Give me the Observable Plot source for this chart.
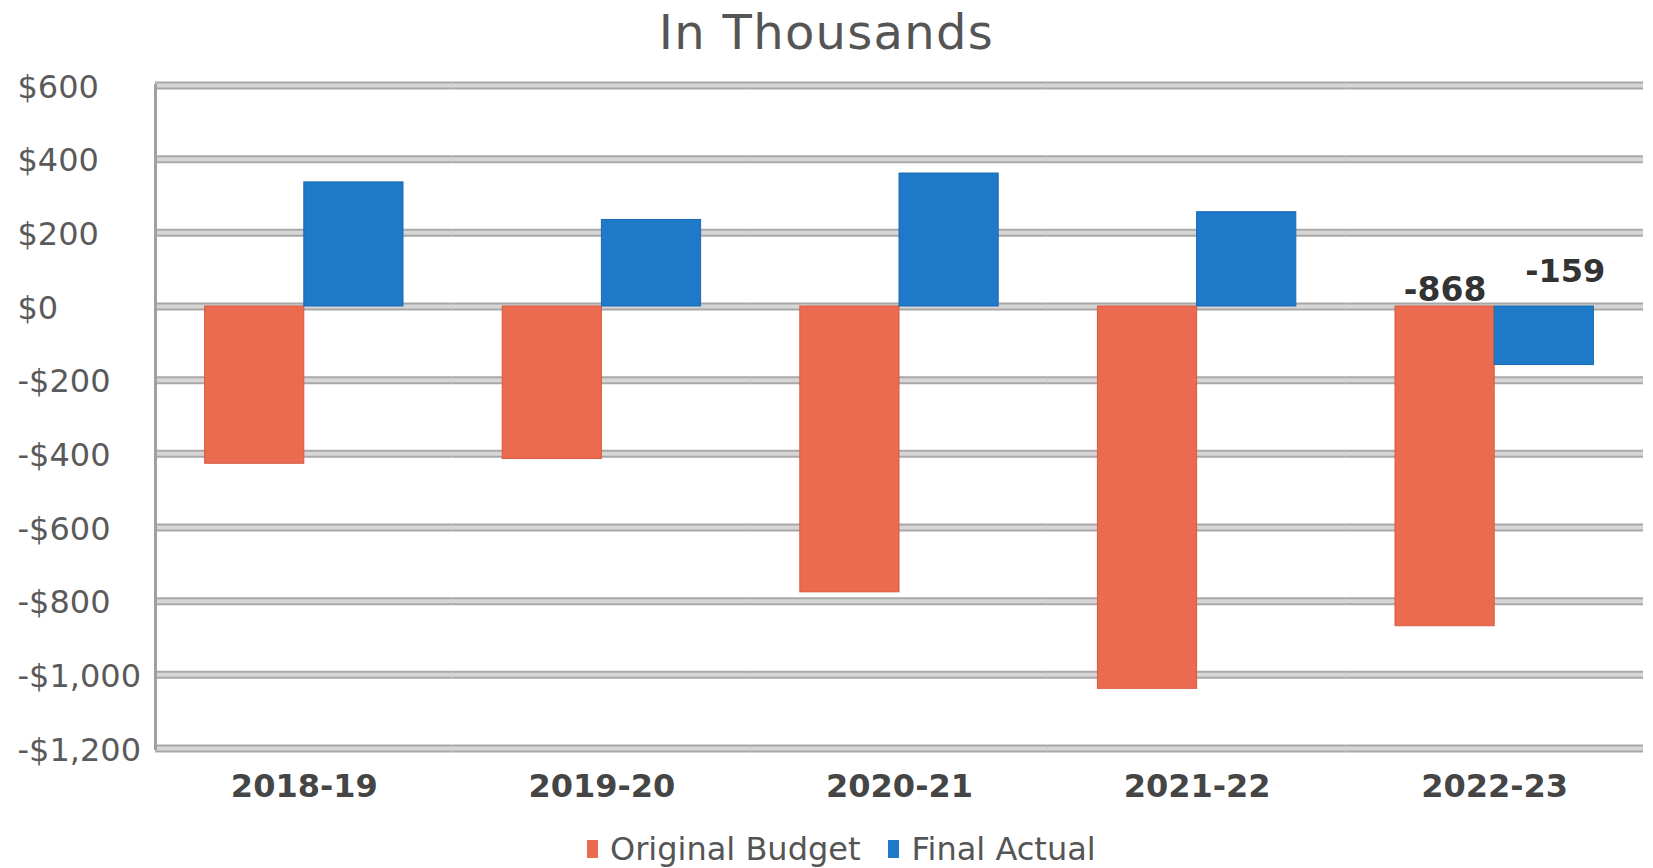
<!DOCTYPE html>
<html>
<head>
<meta charset="utf-8">
<script src="https://cdn.jsdelivr.net/npm/d3@7"></script>
<script src="https://cdn.jsdelivr.net/npm/@observablehq/plot@0.6"></script>
<style>
  html, body { margin: 0; padding: 0; background: #fff; }
  body { width: 1653px; height: 868px; position: relative; overflow: hidden; font-family: "DejaVu Sans", Verdana, sans-serif; }
  #title { position: absolute; top: 1px; left: 0; width: 1653px; text-align: center; font-size: 48px; line-height: 62px; color: #555; letter-spacing: 1.3px; }
  #chart { position: absolute; top: 60px; left: 0; }
  #legend { position: absolute; top: 831px; left: 587px; display: flex; align-items: center; font-size: 32px; color: #555; line-height: 36px; white-space: nowrap; }
  .sw { display: inline-block; width: 11px; height: 18px; margin-right: 12px; }
  .item { display: flex; align-items: center; margin-right: 28px; }
</style>
</head>
<body>
<div id="title">In Thousands</div>
<div id="chart"></div>
<div id="legend"></div>
<script>
// ---- data ----
const years = ["2018-19", "2019-20", "2020-21", "2021-22", "2022-23"];
const seriesNames = ["Original Budget", "Final Actual"];
const originalBudget = [-427, -414, -776, -1038, -868];
const finalActual = [337, 235, 361, 256, -159];
const yTicks = [600, 400, 200, 0, -200, -400, -600, -800, -1000, -1200];
const labeledYears = ["2022-23"];
const colors = ["#EA6B50", "#1E79C9"];
const strokeColors = ["#d85a40", "#1a6ab2"];

const rows = [];
years.forEach((yr, i) => {
  rows.push({year: yr, series: seriesNames[0], value: originalBudget[i]});
  rows.push({year: yr, series: seriesNames[1], value: finalActual[i]});
});
const labelRows = rows.filter(d => labeledYears.includes(d.year));

const fmt = d => (d < 0 ? "-" : "") + "$" + d3.format(",")(Math.abs(d));

const chart = Plot.plot({
  width: 1653,
  height: 770,
  marginTop: 25,
  marginBottom: 82,
  marginLeft: 155,
  marginRight: 10,
  style: {fontFamily: "DejaVu Sans, Verdana, sans-serif", background: "#fff"},
  fx: {domain: years, padding: 0, round: false, label: null},
  x: {domain: seriesNames, paddingInner: 0, paddingOuter: 0.5, round: false, axis: null},
  y: {domain: [-1200, 600], label: null},
  color: {domain: seriesNames, range: colors},
  marks: [
    Plot.ruleY(yTicks, {stroke: "#a8a8a8", strokeWidth: 8}),
    Plot.ruleY(yTicks, {stroke: "#d6d6d6", strokeWidth: 4}),
    Plot.frame({anchor: "left", facetAnchor: "left", stroke: "#a0a0a0", strokeWidth: 3}),
    Plot.barY(rows, {fx: "year", x: "series", y: "value", fill: "series",
      stroke: d => strokeColors[seriesNames.indexOf(d.series)], strokeWidth: 1}),
    Plot.text(labelRows.filter(d => d.series === seriesNames[0]), {
      fx: "year", x: "series", y: 0, text: d => String(d.value),
      dy: -16, fontSize: 33, fontWeight: "bold", fill: "#333"}),
    Plot.text(labelRows.filter(d => d.series === seriesNames[1]), {
      fx: "year", x: "series", y: 0, text: d => String(d.value),
      dy: -35, dx: 21, fontSize: 32, fontWeight: "bold", fill: "#333"}),
    Plot.axisY(yTicks, {tickSize: 0, tickPadding: 138, textAnchor: "start", tickFormat: fmt,
      fontSize: 32, fill: "#5a5a5a", dy: 2, label: null}),
    Plot.axisFx({anchor: "bottom", tickSize: 0, tickPadding: 26, fontSize: 32,
      fontWeight: "bold", fill: "#454545", label: null})
  ]
});
document.getElementById("chart").appendChild(chart);

// legend
const legend = document.getElementById("legend");
seriesNames.forEach((name, i) => {
  const item = document.createElement("span");
  item.className = "item";
  const sw = document.createElement("span");
  sw.className = "sw";
  sw.style.background = colors[i];
  item.appendChild(sw);
  item.appendChild(document.createTextNode(name));
  legend.appendChild(item);
});
</script>
</body>
</html>
